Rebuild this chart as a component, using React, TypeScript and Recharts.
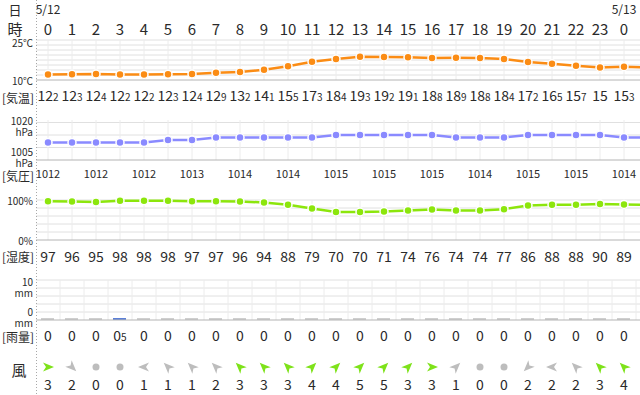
import React from "react";
import { ComposedChart, Line, Bar, Cell, XAxis, YAxis, CartesianGrid } from "recharts";

// hourly forecast, 5/12 0時 .. 5/13 0時 (last entry = where the lines leave the frame)
const hourLabels = ["0", "1", "2", "3", "4", "5", "6", "7", "8", "9", "10", "11", "12", "13", "14", "15", "16", "17", "18", "19", "20", "21", "22", "23", "0"];
const dateLabels: Record<number, string> = { 0: "5/12", 24: "5/13" };
const temps = [12.2, 12.3, 12.4, 12.2, 12.2, 12.3, 12.4, 12.9, 13.2, 14.1, 15.5, 17.3, 18.4, 19.3, 19.2, 19.1, 18.8, 18.9, 18.8, 18.4, 17.2, 16.5, 15.7, 15, 15.3, 15.0];
const pressures = [1012, 1012, 1012, 1012, 1012, 1013, 1013, 1014, 1014, 1014, 1014, 1014, 1015, 1015, 1015, 1015, 1015, 1014, 1014, 1014, 1015, 1015, 1015, 1015, 1014, 1014];
const humidity = [97, 96, 95, 98, 98, 98, 97, 97, 96, 94, 88, 79, 70, 70, 71, 74, 76, 74, 74, 77, 86, 88, 88, 90, 89, 88];
const rain = [0, 0, 0, 0.5, 0, 0, 0, 0, 0, 0, 0, 0, 0, 0, 0, 0, 0, 0, 0, 0, 0, 0, 0, 0, 0];
const windSpeed = [3, 2, 0, 0, 1, 1, 1, 2, 3, 3, 3, 4, 4, 5, 5, 3, 3, 1, 0, 0, 2, 2, 2, 3, 4];
// direction the arrow points to
const windTo = ["E", "SE", "", "", "W", "NW", "NW", "NW", "NW", "NW", "NW", "NE", "NE", "NE", "NE", "NE", "E", "NE", "", "", "SW", "W", "NW", "NW", "NW"];

const FONT = "'Noto Sans CJK JP', 'Noto Sans', sans-serif";
const CHART_W = 660;
const X_DOMAIN: [number, number] = [-0.5, 25.5];
const LABEL_TICKS = hourLabels.map((_, i) => i);
const GRID_X = temps.map((_, i) => i);
const RAIN_GRID_X = rain.map((_, i) => i + 0.5);

const TEMP_COLOR = "#fb8c14";
const PRES_COLOR = "#8a8aff";
const HUM_COLOR = "#8ce60c";
const RAIN_COLOR = "#5b7fd6";
const WIND_GREEN = "#7ee21a";
const WIND_GRAY = "#bdbdbd";
const GRID_H = "#e0e0e0";
const GRID_V = "#ececec";
const AXIS = "#b4b4b4";
const TEXT = "#2a2a2a";

const ANGLES: Record<string, number> = { E: 0, SE: 45, S: 90, SW: 135, W: 180, NW: 225, N: 270, NE: 315 };

const toRows = (vals: number[]) => vals.map((v, h) => ({ h, v }));

// "12.2" -> 12 with a small 2 on the same baseline
function SplitNum({ x, y, value, size, small }: { x: number; y: number; value: number; size: number; small: number }) {
  const [a, b] = String(value).split(".");
  return (
    <text x={x} y={y + size * 0.36} textAnchor="middle" fill={TEXT} fontSize={size} fontFamily={FONT}>
      {a}
      {b ? <tspan fontSize={small}>{b}</tspan> : null}
    </text>
  );
}

// y tick labels in the left column; two-line ones carry the unit underneath
function yLabel(lines: (v: number) => string[], top: number, topShift = 1.5) {
  return (props: any) => {
    const { y, payload } = props;
    const parts = lines(payload.value);
    const isTop = payload.value === top;
    if (parts.length === 1) {
      return (
        <text x={33} y={y} textAnchor="end" dominantBaseline="central" fontSize={10} fill={TEXT} fontFamily={FONT}>
          {parts[0]}
        </text>
      );
    }
    const y1 = isTop ? y + topShift : y - 9;
    return (
      <g>
        <text x={33} y={y1} textAnchor="end" dominantBaseline="central" fontSize={10} fill={TEXT} fontFamily={FONT}>{parts[0]}</text>
        <text x={33} y={y1 + 11} textAnchor="end" dominantBaseline="central" fontSize={10} fill={TEXT} fontFamily={FONT}>{parts[1]}</text>
      </g>
    );
  };
}

function WindTick(props: any) {
  const { x, y, payload } = props;
  const i = payload.value as number;
  const sp = windSpeed[i];
  const color = sp >= 3 ? WIND_GREEN : WIND_GRAY;
  return (
    <g>
      {sp === 0 ? (
        <circle cx={x} cy={y + 17} r={3.5} fill={WIND_GRAY} />
      ) : (
        <path
          d="M6,0 L-5,-4.5 L-2,0 L-5,4.5 Z"
          fill={color}
          transform={`translate(${x},${y + 17}) rotate(${ANGLES[windTo[i]]})`}
        />
      )}
      <text x={x} y={y + 34} textAnchor="middle" dominantBaseline="central" fontSize={14} fill={TEXT} fontFamily={FONT}>
        {sp}
      </text>
    </g>
  );
}

function Grid({ hValues, vValues }: { hValues: number[]; vValues: number[] }) {
  return (
    <>
      <CartesianGrid vertical={false} horizontalValues={hValues} stroke={GRID_H} />
      <CartesianGrid horizontal={false} verticalValues={vValues} stroke={GRID_V} />
    </>
  );
}

const noMargin = { top: 0, right: 0, bottom: 0, left: 0 };
const smallTop = { top: 10, right: 0, bottom: 0, left: 0 };

const xBase = {
  type: "number" as const,
  dataKey: "h",
  domain: X_DOMAIN,
  allowDataOverflow: true,
  interval: 0 as const,
  tickLine: false,
  tickSize: 0,
  tickMargin: 0,
};

export default function App() {
  return (
    <div style={{ position: "fixed", left: 0, top: 0, width: 640, height: 395, overflow: "hidden", background: "#fff", fontFamily: FONT }}>
      {/* temperature + header */}
      <div style={{ position: "absolute", left: 0, top: 0 }}>
        <ComposedChart width={CHART_W} height={110} data={toRows(temps)} margin={noMargin}>
          <Grid hValues={[12, 14, 16, 18, 20, 22, 24, 26]} vValues={GRID_X} />
          <XAxis
            {...xBase}
            xAxisId="top"
            orientation="top"
            ticks={LABEL_TICKS}
            height={40}
            axisLine={false}
            tick={(p: any) => (
              <g>
                {dateLabels[p.payload.value] ? (
                  <text x={p.x} y={p.y - 32} textAnchor="middle" dominantBaseline="central" fontSize={12} fill={TEXT} fontFamily={FONT}>
                    {dateLabels[p.payload.value]}
                  </text>
                ) : null}
                <text x={p.x} y={p.y - 12} textAnchor="middle" dominantBaseline="central" fontSize={15} fill={TEXT} fontFamily={FONT}>
                  {hourLabels[p.payload.value]}
                </text>
              </g>
            )}
          />
          <XAxis
            {...xBase}
            ticks={LABEL_TICKS}
            height={30}
            axisLine={{ stroke: AXIS }}
            tick={(p: any) => <SplitNum x={p.x} y={p.y + 16} value={temps[p.payload.value]} size={14} small={10} />}
          />
          <YAxis
            type="number"
            domain={[10, 26]}
            ticks={[10, 25]}
            interval={0}
            width={36}
            axisLine={false}
            tickLine={false}
            tick={yLabel((v) => [`${v}℃`], 25)}
          />
          <Line dataKey="v" stroke={TEMP_COLOR} strokeWidth={2.5} dot={{ r: 4, fill: TEMP_COLOR, stroke: "#fff", strokeWidth: 1.5 }} isAnimationActive={false} />
        </ComposedChart>
      </div>

      {/* pressure */}
      <div style={{ position: "absolute", left: 0, top: 110 }}>
        <ComposedChart width={CHART_W} height={80} data={toRows(pressures)} margin={smallTop}>
          <Grid hValues={[1010, 1015, 1020]} vValues={GRID_X} />
          <XAxis
            {...xBase}
            ticks={LABEL_TICKS.filter((i) => i % 2 === 0)}
            height={30}
            axisLine={{ stroke: AXIS }}
            tick={(p: any) => (
              <text x={p.x} y={p.y + 13} textAnchor="middle" dominantBaseline="central" fontSize={11} fill={TEXT} fontFamily={FONT}>
                {pressures[p.payload.value]}
              </text>
            )}
          />
          <YAxis
            type="number"
            domain={[1005, 1021]}
            ticks={[1005, 1020]}
            interval={0}
            width={36}
            axisLine={false}
            tickLine={false}
            tick={yLabel((v) => [String(v), "hPa"], 1020, -2)}
          />
          <Line dataKey="v" stroke={PRES_COLOR} strokeWidth={2.5} dot={{ r: 4, fill: PRES_COLOR, stroke: "#fff", strokeWidth: 1.5 }} isAnimationActive={false} />
        </ComposedChart>
      </div>

      {/* humidity */}
      <div style={{ position: "absolute", left: 0, top: 190 }}>
        <ComposedChart width={CHART_W} height={80} data={toRows(humidity)} margin={smallTop}>
          <Grid hValues={[20, 40, 60, 80, 100]} vValues={GRID_X} />
          <XAxis
            {...xBase}
            ticks={LABEL_TICKS}
            height={30}
            axisLine={{ stroke: AXIS }}
            tick={(p: any) => (
              <text x={p.x} y={p.y + 16} textAnchor="middle" dominantBaseline="central" fontSize={14} fill={TEXT} fontFamily={FONT}>
                {humidity[p.payload.value]}
              </text>
            )}
          />
          <YAxis
            type="number"
            domain={[0, 100]}
            ticks={[0, 100]}
            interval={0}
            width={36}
            axisLine={false}
            tickLine={false}
            tick={yLabel((v) => [`${v}%`], 100)}
          />
          <Line dataKey="v" stroke={HUM_COLOR} strokeWidth={2.5} dot={{ r: 4, fill: HUM_COLOR, stroke: "#fff", strokeWidth: 1.5 }} isAnimationActive={false} />
        </ComposedChart>
      </div>

      {/* rain + wind */}
      <div style={{ position: "absolute", left: 0, top: 270 }}>
        <ComposedChart width={CHART_W} height={125} data={toRows(rain)} margin={smallTop}>
          <Grid hValues={[2, 4, 6, 8, 10]} vValues={RAIN_GRID_X} />
          <XAxis
            {...xBase}
            ticks={LABEL_TICKS}
            height={30}
            axisLine={{ stroke: AXIS }}
            tick={(p: any) => <SplitNum x={p.x} y={p.y + 16} value={rain[p.payload.value]} size={14} small={10} />}
          />
          <XAxis
            {...xBase}
            xAxisId="wind"
            ticks={LABEL_TICKS}
            height={45}
            axisLine={false}
            tick={WindTick}
          />
          <YAxis
            type="number"
            domain={[0, 10]}
            ticks={[0, 10]}
            interval={0}
            width={36}
            axisLine={false}
            tickLine={false}
            tick={yLabel((v) => [String(v), "mm"], 10)}
          />
          <Bar dataKey="v" barSize={13} minPointSize={2} isAnimationActive={false}>
            {rain.map((v, i) => (
              <Cell key={i} fill={v > 0 ? RAIN_COLOR : "#cfcfcf"} />
            ))}
          </Bar>
        </ComposedChart>
      </div>

      {/* row titles + dotted divider */}
      <svg width={40} height={395} style={{ position: "absolute", left: 0, top: 0, pointerEvents: "none" }}>
        <line x1={36.5} y1={0} x2={36.5} y2={395} stroke="#a8a8a8" strokeDasharray="1 2" />
        <text x={15} y={9} textAnchor="middle" dominantBaseline="central" fontSize={13} fill={TEXT} fontFamily={FONT}>日</text>
        <text x={15} y={28} textAnchor="middle" dominantBaseline="central" fontSize={15} fill={TEXT} fontFamily={FONT}>時</text>
        <text x={18} y={97} textAnchor="middle" dominantBaseline="central" fontSize={12} fill={TEXT} fontFamily={FONT}>[気温]</text>
        <text x={18} y={175} textAnchor="middle" dominantBaseline="central" fontSize={12} fill={TEXT} fontFamily={FONT}>[気圧]</text>
        <text x={18} y={256} textAnchor="middle" dominantBaseline="central" fontSize={12} fill={TEXT} fontFamily={FONT}>[湿度]</text>
        <text x={18} y={336} textAnchor="middle" dominantBaseline="central" fontSize={12} fill={TEXT} fontFamily={FONT}>[雨量]</text>
        <text x={19} y={369} textAnchor="middle" dominantBaseline="central" fontSize={15} fill={TEXT} fontFamily={FONT}>風</text>
      </svg>
    </div>
  );
}
